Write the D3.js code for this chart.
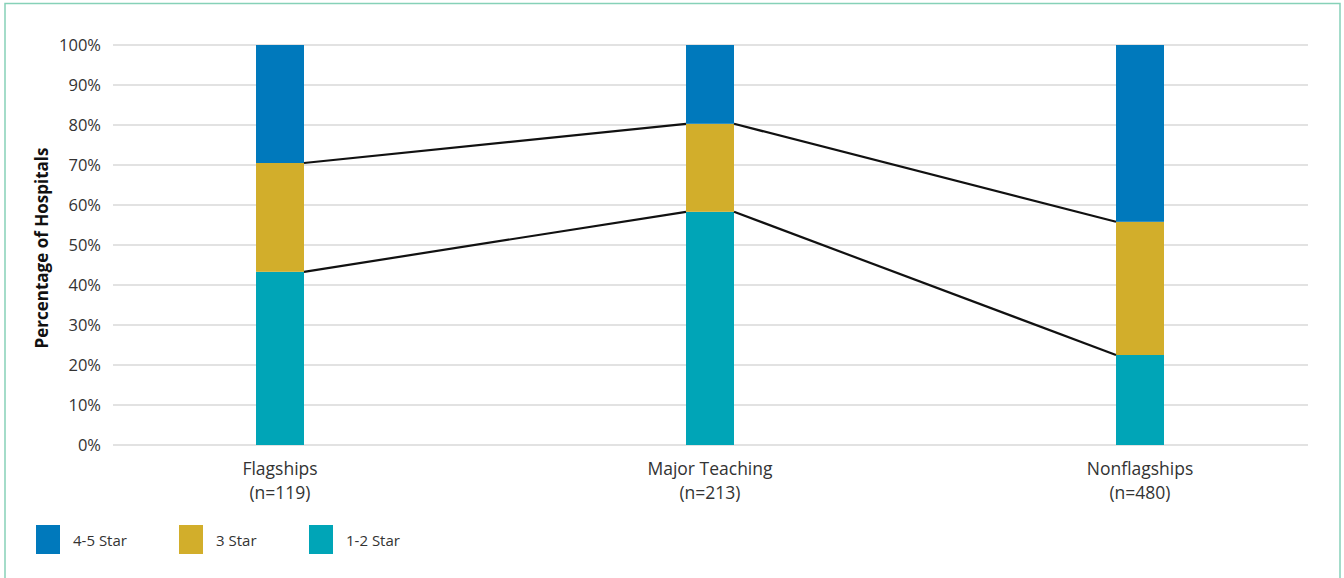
<!DOCTYPE html>
<html><head><meta charset="utf-8">
<script src="https://cdn.jsdelivr.net/npm/d3@7"></script>
<style>body{margin:0;background:#fff;}svg{display:block;font-family:"Open Sans",Lato,sans-serif;}</style>
</head><body><svg id="c" width="1344" height="578"></svg>
<script>
const categories = ["Flagships", "Major Teaching", "Nonflagships"];
const counts = ["(n=119)", "(n=213)", "(n=480)"];
const star12 = [43.3, 58.3, 22.5];
const star3 = [27.2, 22.0, 33.3];
const star45 = [29.5, 19.7, 44.2];
const seriesNames = ["4-5 Star", "3 Star", "1-2 Star"];
const colors = {"4-5 Star": "#0079bc", "3 Star": "#d2ae2b", "1-2 Star": "#00a5b7"};
const yTicks = [0,10,20,30,40,50,60,70,80,90,100];

const svg = d3.select("#c");
svg.append("rect").attr("x",5).attr("y",3.5).attr("width",1335).attr("height",580)
  .attr("fill","none").attr("stroke","#86d1b8").attr("stroke-width",1.5);

const x0 = 113, x1 = 1308;
const y = d3.scaleLinear().domain([0,100]).range([445,45]);
const x = d3.scalePoint().domain(categories).range([280, 1140]);
const bw = 48;
const cx = c => x(c);

svg.append("g").selectAll("line").data(yTicks).join("line")
  .attr("x1",x0).attr("x2",x1).attr("y1",d=>y(d)).attr("y2",d=>y(d))
  .attr("stroke","#d9d9d9").attr("stroke-width",1.3);

const yAxis = d3.axisLeft(y).tickValues(yTicks).tickFormat(d=>d+"%").tickSize(0).tickPadding(12);
const ga = svg.append("g").attr("transform",`translate(${x0},0)`).call(yAxis);
ga.select(".domain").remove();
ga.selectAll("text").attr("font-size",16.5).attr("fill","#333").attr("font-family","'Open Sans',sans-serif");

svg.append("text").attr("transform","translate(48,248) rotate(-90)").attr("text-anchor","middle")
  .attr("font-size",17).attr("font-weight","bold").attr("fill","#111").text("Percentage of Hospitals");

const rows = categories.map((c,i)=>({cat:c,"1-2 Star":star12[i],"3 Star":star3[i],"4-5 Star":star45[i]}));
const stack = d3.stack().keys(["1-2 Star","3 Star","4-5 Star"]);
const layers = stack(rows);

svg.append("g").selectAll("g").data(layers).join("g").attr("fill",d=>colors[d.key])
  .selectAll("rect").data(d=>d).join("rect")
  .attr("x",d=>cx(d.data.cat)-bw/2).attr("width",bw)
  .attr("y",d=>y(d[1])).attr("height",d=>y(d[0])-y(d[1]));

[layers[0], layers[1]].forEach(layer=>{
  for(let i=0;i<layer.length-1;i++){
    svg.append("line")
      .attr("x1",cx(categories[i])+bw/2).attr("y1",y(layer[i][1]))
      .attr("x2",cx(categories[i+1])-bw/2).attr("y2",y(layer[i+1][1]))
      .attr("stroke","#111").attr("stroke-width",2.2);
  }
});

const gl = svg.append("g");
categories.forEach((c,i)=>{
  gl.append("text").attr("x",cx(c)).attr("y",475).attr("text-anchor","middle")
    .attr("font-size",17.5).attr("fill","#333").text(c);
  gl.append("text").attr("x",cx(c)).attr("y",499).attr("text-anchor","middle")
    .attr("font-size",17.5).attr("fill","#333").text(counts[i]);
});

const legX = [36,179,309];
seriesNames.forEach((s,i)=>{
  svg.append("rect").attr("x",legX[i]).attr("y",525).attr("width",24).attr("height",29).attr("fill",colors[s]);
  svg.append("text").attr("x",legX[i]+37).attr("y",546).attr("font-size",15).attr("fill","#333").text(s);
});
</script></body></html>
